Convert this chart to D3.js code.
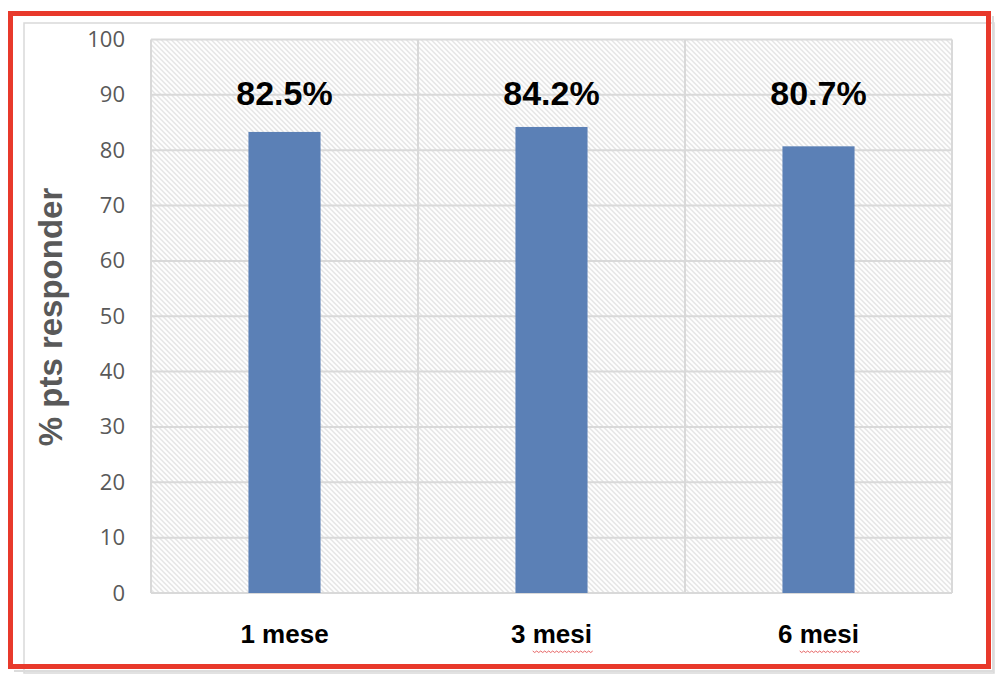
<!DOCTYPE html>
<html>
<head>
<meta charset="utf-8">
<script src="https://cdn.jsdelivr.net/npm/d3@7"></script>
<style>
html,body{margin:0;padding:0;background:#fff;}
svg{display:block;}
</style>
</head>
<body>
<svg id="chart" width="1000" height="684"></svg>
<script>
const categories = ["1 mese", "3 mesi", "6 mesi"];
const values = [83.3, 84.2, 80.7];
const valueLabels = ["82.5%", "84.2%", "80.7%"];
const yTicks = [0, 10, 20, 30, 40, 50, 60, 70, 80, 90, 100];
const yTitle = "% pts responder";

const svg = d3.select("#chart");
const margin = {left: 151, right: 48, top: 39.5, bottom: 91};
const W = 1000, H = 684;
const plotW = W - margin.left - margin.right;
const plotH = H - margin.top - margin.bottom;

// hatch pattern
const defs = svg.append("defs");
const pat = defs.append("pattern")
  .attr("id", "hatch").attr("patternUnits", "userSpaceOnUse")
  .attr("width", 5).attr("height", 5);
pat.append("rect").attr("width", 5).attr("height", 5).attr("fill", "#ffffff");
pat.append("path").attr("d", "M-1,-1 L6,6 M-1,4 L1,6 M4,-1 L6,1")
  .attr("stroke", "#dcdcdc").attr("stroke-width", 1.2);

// outer frames
svg.append("rect").attr("x", 24).attr("y", 23).attr("width", 970).attr("height", 650)
  .attr("fill", "none").attr("stroke", "#d9d9d9").attr("stroke-width", 1.5);
svg.append("path").attr("d", "M14,671 L993,671 L993,16")
  .attr("fill", "none").attr("stroke", "#dcdcdc").attr("stroke-width", 2);
svg.append("rect").attr("x", 10.5).attr("y", 13.5).attr("width", 978).attr("height", 653)
  .attr("fill", "none").attr("stroke", "#e8392b").attr("stroke-width", 5);

const g = svg.append("g").attr("transform", `translate(${margin.left},${margin.top})`);

const x = d3.scaleBand().domain(categories).range([0, plotW]).paddingInner(0.73).paddingOuter(0.365);
const xb = d3.scaleBand().domain(categories).range([0, plotW]).padding(0);
const y = d3.scaleLinear().domain([0, 100]).range([plotH, 0]);

g.append("rect").attr("x", 0).attr("y", 0).attr("width", plotW).attr("height", plotH)
  .attr("fill", "url(#hatch)");

// horizontal gridlines
g.append("g").selectAll("line").data(yTicks).join("line")
  .attr("x1", 0).attr("x2", plotW)
  .attr("y1", d => y(d)).attr("y2", d => y(d))
  .attr("stroke", "#d9d9d9").attr("stroke-width", 2);

// vertical gridlines at category boundaries
const bounds = categories.map(c => xb(c)).concat([plotW]);
g.append("g").selectAll("line").data(bounds).join("line")
  .attr("x1", d => d).attr("x2", d => d)
  .attr("y1", 0).attr("y2", plotH)
  .attr("stroke", "#d9d9d9").attr("stroke-width", 2);

// bars
g.append("g").selectAll("rect").data(values).join("rect")
  .attr("x", (d, i) => x(categories[i]))
  .attr("width", x.bandwidth())
  .attr("y", d => y(d))
  .attr("height", d => plotH - y(d))
  .attr("fill", "#5b80b6");

// value labels
g.append("g").selectAll("text").data(valueLabels).join("text")
  .attr("x", (d, i) => x(categories[i]) + x.bandwidth() / 2)
  .attr("y", 65.5)
  .attr("text-anchor", "middle")
  .attr("font-family", "Liberation Sans, Arial, sans-serif")
  .attr("font-weight", "bold")
  .attr("font-size", 34)
  .attr("fill", "#000")
  .text(d => d);

// y axis tick labels
const yAxis = d3.axisLeft(y).tickValues(yTicks).tickSize(0).tickPadding(26);
const ya = g.append("g").call(yAxis);
ya.select(".domain").remove();
ya.selectAll("text")
  .attr("font-family", "Open Sans, Liberation Sans, sans-serif")
  .attr("font-size", 22)
  .attr("fill", "#595959");

// x axis labels
const xAxis = d3.axisBottom(x).tickSize(0).tickPadding(0);
const xa = g.append("g").attr("transform", `translate(0,${plotH})`).call(xAxis);
xa.select(".domain").remove();
xa.selectAll("text")
  .attr("dy", null)
  .attr("y", 50)
  .attr("font-family", "Liberation Sans, Arial, sans-serif")
  .attr("font-weight", "bold")
  .attr("font-size", 26)
  .attr("fill", "#000");

// spell-check style wavy underline under "mesi"
xa.selectAll(".tick").each(function(d) {
  if (d.indexOf("mesi") >= 0) {
    const t = d3.select(this).select("text").node();
    const bb = t.getBBox();
    const sub = t.getSubStringLength(0, 2);
    const x0 = bb.x + sub, x1 = bb.x + bb.width;
    let p = `M${x0},${58}`;
    for (let xx = x0, k = 0; xx < x1; xx += 2, k++) {
      p += ` L${xx + 2},${58 + (k % 2 ? 0 : 1.5)}`;
    }
    d3.select(this).append("path").attr("d", p)
      .attr("fill", "none").attr("stroke", "#e04040").attr("stroke-width", 0.8);
  }
});

// y title
svg.append("text")
  .attr("transform", `translate(62,${317}) rotate(-90)`)
  .attr("text-anchor", "middle")
  .attr("font-family", "Liberation Sans, Arial, sans-serif")
  .attr("font-weight", "bold")
  .attr("font-size", 33)
  .attr("fill", "#595959")
  .text(yTitle);
</script>
</body>
</html>
